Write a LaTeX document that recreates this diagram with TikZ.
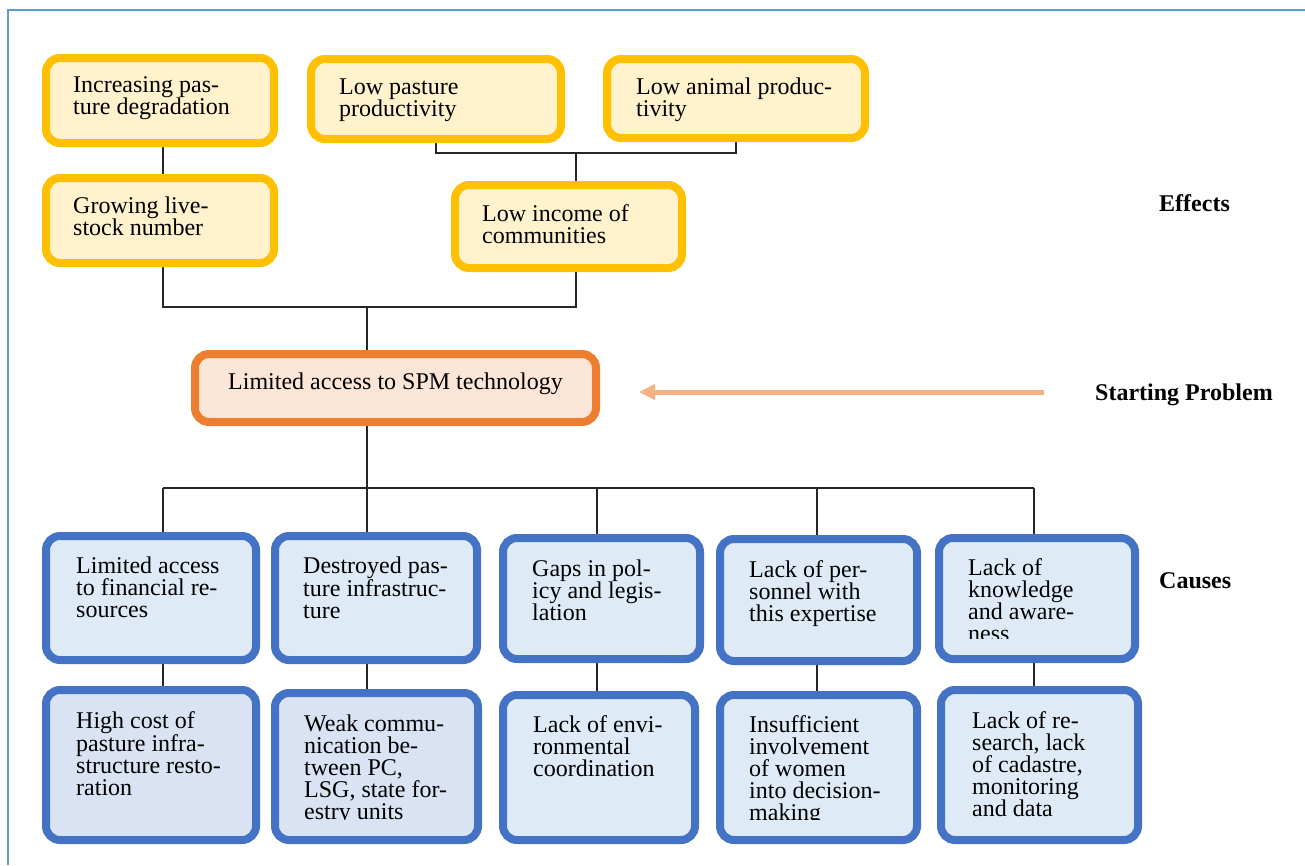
\documentclass[tikz,border=0pt]{standalone}
\usepackage{fontspec}
\setmainfont{Liberation Serif}
\usetikzlibrary{arrows.meta,backgrounds}

\definecolor{effB}{HTML}{FFC000}
\definecolor{effF}{HTML}{FFF2CC}
\definecolor{probB}{HTML}{ED7D31}
\definecolor{probF}{HTML}{FBE5D6}
\definecolor{causeB}{HTML}{4472C4}
\definecolor{causeF}{HTML}{DEEBF7}
\definecolor{causeG}{HTML}{DAE3F3}
\definecolor{arrowC}{HTML}{F4B183}
\definecolor{frameC}{HTML}{5B9BD5}

% multi-line box text whose baseline is that of its first line
\newcommand\boxtext[1]{\vtop{\hsize=400pt\parindent=0pt\rightskip=0pt plus 1fil\hyphenpenalty=10000\noindent #1}}

\tikzset{
  boxbase/.style={rectangle, rounded corners=14pt, line width=8pt, inner sep=0pt, outer sep=0pt},
  effect/.style={boxbase, draw=effB, fill=effF},
  problem/.style={boxbase, draw=probB, fill=probF},
  cause/.style={boxbase, draw=causeB, fill=causeF},
  causedeep/.style={boxbase, draw=causeB, fill=causeG},
  sz/.style 2 args={minimum width=#1pt, minimum height=#2pt},
  txt/.style={anchor=base west, inner sep=0pt, font=\fontsize{24}{22}\selectfont},
  lbl/.style={anchor=base west, inner sep=0pt, font=\fontsize{24}{22}\selectfont\bfseries},
  conn/.style={draw=black!85, line width=1.3pt},
}

\begin{document}
\begin{tikzpicture}[x=1pt, y=-1pt]
\useasboundingbox (0,0) rectangle (1305,865);

% ---- effects ----
\node[effect, sz={228}{85}] (A)  at (160,100.5) {};
\node[effect, sz={228}{85}] (G)  at (160,220.5) {};
\node[effect, sz={250}{80}] (LP) at (436,99) {};
\node[effect, sz={258}{79}] (LA) at (736,98.5) {};
\node[effect, sz={227}{83}] (LI) at (568.5,226.5) {};

\node[txt] (tA)  at (73,92)   {\boxtext{Increasing pas-\\ture degradation}};
\node[txt] (tG)  at (73,213)  {\boxtext{Growing live-\\stock number}};
\node[txt] (tLP) at (339,94)  {\boxtext{Low pasture\\productivity}};
\node[txt] (tLA) at (636,94)  {\boxtext{Low animal produc-\\tivity}};
\node[txt] (tLI) at (482,221) {\boxtext{Low income of\\communities}};

% ---- starting problem ----
\node[problem, sz={401}{68}] (OR) at (395.5,388) {};
\node[txt] (tOR) at (228,389) {Limited access to SPM technology};

% ---- causes ----
\node[cause, sz={210}{124}] (T1) at (151,598) {};
\node[cause, sz={202}{124}] (T2) at (376,598) {};
\node[cause, sz={197}{121}] (T3) at (601.5,598.5) {};
\node[cause, sz={197}{122}] (T4) at (818.5,600) {};
\node[cause, sz={196}{121}] (T5) at (1037,598.5) {};

\node[causedeep, sz={210}{150}] (B1) at (151,765) {};
\node[causedeep, sz={203}{147}] (B2) at (376.5,766.5) {};
\node[cause, sz={192}{145}] (B3) at (599,767.5) {};
\node[cause, sz={197}{145}] (B4) at (818.5,767.5) {};
\node[cause, sz={197}{150}] (B5) at (1039.5,765) {};

\node[txt] (tT1) at (76,573)  {\boxtext{Limited access\\to financial re-\\sources}};
\node[txt] (tT2) at (303,573) {\boxtext{Destroyed pas-\\ture infrastruc-\\ture}};
\node[txt] (tT3) at (532,576) {\boxtext{Gaps in pol-\\icy and legis-\\lation}};
\node[txt] (tT4) at (749,577) {\boxtext{Lack of per-\\sonnel with\\this expertise}};
\begin{scope}
  \clip (940,540) rectangle (1134,638);
  \node[txt] (tT5) at (968,575) {\boxtext{Lack of\\knowledge\\and aware-\\ness}};
\end{scope}

\node[txt] (tB1) at (76,728) {\boxtext{High cost of\\pasture infra-\\structure resto-\\ration}};
\begin{scope}
  \clip (276,695) rectangle (477,819.5);
  \node[txt] (tB2) at (304,731) {\boxtext{Weak commu-\\nication be-\\tween PC,\\LSG, state for-\\estry units}};
\end{scope}
\node[txt] (tB3) at (533,732) {\boxtext{Lack of envi-\\ronmental\\coordination}};
\begin{scope}
  \clip (721,695) rectangle (916,819.5);
  \node[txt] (tB4) at (749,732) {\boxtext{Insufficient\\involvement\\of women\\into decision-\\making}};
\end{scope}
\node[txt] (tB5) at (972,728) {\boxtext{Lack of re-\\search, lack\\of cadastre,\\monitoring\\and data}};

% ---- side labels ----
\node[lbl] (lE) at (1159,211) {Effects};
\node[lbl] (lS) at (1095,400) {Starting Problem};
\node[lbl] (lC) at (1159,588) {Causes};

\coordinate (arrTail) at (1044,392);
\coordinate (arrTip)  at (639,392);
\draw[arrowC, line width=5pt, -{Triangle[length=16pt,width=15pt]}] (arrTail) -- (arrTip);

% ---- connectors, behind the boxes ----
\coordinate (jTop) at (576,153);
\coordinate (jMid) at (367,307);
\coordinate (d1) at (163,488);
\coordinate (d2) at (367,488);
\coordinate (d3) at (597,488);
\coordinate (d4) at (817,488);
\coordinate (d5) at (1034,488);

\begin{scope}[on background layer]
  \draw[frameC, line width=2.2pt] (8,865) -- (8,10) -- (1305,10);
  \draw[conn] (d1 |- A.south) -- (d1 |- G.north);
  \draw[conn] (LP.south) |- (jTop) -| (LA.south);
  \draw[conn] (jTop) -- (jTop |- LI.north);
  \draw[conn] (d1 |- G.south) |- (jMid) -| (jTop |- LI.south);
  \draw[conn] (jMid) -- (jMid |- OR.north);
  \draw[conn] (d2 |- OR.south) -- (d2);
  \draw[conn] (d1) -- (d5);
  \foreach \i in {1,...,5} {
    \draw[conn] (d\i) -- (d\i |- T\i.north);
    \draw[conn] (d\i |- T\i.south) -- (d\i |- B\i.north);
  }
\end{scope}
\end{tikzpicture}
\end{document}
